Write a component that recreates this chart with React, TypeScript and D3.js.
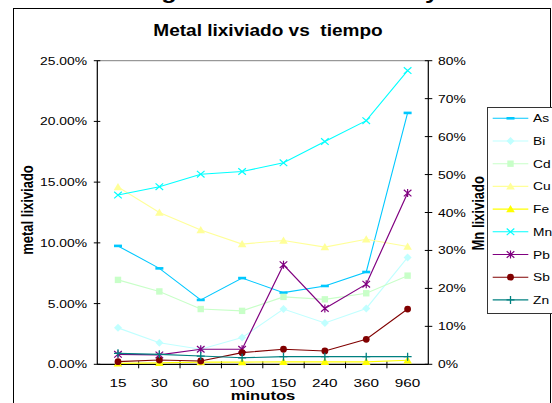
import React from "react";
import * as d3 from "d3";

const categories = ["15", "30", "60", "100", "150", "240", "360", "960"];
const leftTicks = [0, 0.05, 0.1, 0.15, 0.2, 0.25];
const rightTicks = [0, 0.1, 0.2, 0.3, 0.4, 0.5, 0.6, 0.7, 0.8];

// percentages (left axis)
const asVals = [9.75, 7.9, 5.3, 7.1, 5.9, 6.45, 7.6, 20.7];
const biVals = [3.0, 1.78, 1.24, 2.2, 4.55, 3.4, 4.6, 8.8];
const cdVals = [6.95, 6.0, 4.55, 4.4, 5.55, 5.35, 5.85, 7.3];
const cuVals = [14.6, 12.5, 11.05, 9.9, 10.2, 9.65, 10.3, 9.7];
const feVals = [0.08, 0.12, 0.18, 0.18, 0.2, 0.2, 0.2, 0.33];
const pbVals = [0.82, 0.77, 1.24, 1.24, 8.2, 4.6, 6.6, 14.1];
const sbVals = [0.22, 0.35, 0.27, 0.96, 1.24, 1.1, 2.06, 4.55];
const znVals = [0.9, 0.82, 0.68, 0.54, 0.63, 0.63, 0.63, 0.63];
// right axis
const mnVals = [44.6, 46.8, 50.1, 50.8, 53.1, 58.7, 64.2, 77.4];

type Series = { name: string; values: number[]; color: string; marker: string; axis: "L" | "R"; width: number };

const series: Series[] = [
  { name: "As", values: asVals, color: "#00C8FF", marker: "dash", axis: "L", width: 1.1 },
  { name: "Bi", values: biVals, color: "#C0FFFF", marker: "diamond", axis: "L", width: 1.1 },
  { name: "Cd", values: cdVals, color: "#C8FFC8", marker: "square", axis: "L", width: 1.1 },
  { name: "Cu", values: cuVals, color: "#FFFF99", marker: "triangle", axis: "L", width: 1.1 },
  { name: "Fe", values: feVals, color: "#FFFF00", marker: "triangle", axis: "L", width: 1.1 },
  { name: "Mn", values: mnVals, color: "#00FFFF", marker: "x", axis: "R", width: 1.1 },
  { name: "Pb", values: pbVals, color: "#800080", marker: "star", axis: "L", width: 1.2 },
  { name: "Sb", values: sbVals, color: "#800000", marker: "circle", axis: "L", width: 1.1 },
  { name: "Zn", values: znVals, color: "#008080", marker: "plus", axis: "L", width: 1.1 },
];

const FONT = "'Liberation Sans', Arial, Helvetica, sans-serif";
const SX = 1.26;

const X0 = 97.3, X1 = 428.3, Y0 = 364.3, Y1 = 60.7;

const x = d3.scaleBand<string>().domain(categories).range([X0, X1]).padding(0);
const yL = d3.scaleLinear().domain([0, 0.25]).range([Y0, Y1]);
const yR = d3.scaleLinear().domain([0, 0.8]).range([Y0, Y1]);

function Marker({ type, cx, cy, color }: { type: string; cx: number; cy: number; color: string }) {
  switch (type) {
    case "dash":
      return <rect x={cx - 4} y={cy - 1.3} width={8} height={2.6} fill={color} />;
    case "diamond":
      return <path d={`M${cx},${cy - 4}L${cx + 4},${cy}L${cx},${cy + 4}L${cx - 4},${cy}Z`} fill={color} />;
    case "square":
      return <rect x={cx - 3.2} y={cy - 3.2} width={6.4} height={6.4} fill={color} />;
    case "triangle":
      return <path d={`M${cx},${cy - 4}L${cx + 4.3},${cy + 3.2}L${cx - 4.3},${cy + 3.2}Z`} fill={color} />;
    case "x":
      return (
        <path d={`M${cx - 3.8},${cy - 3.3}L${cx + 3.8},${cy + 3.3}M${cx - 3.8},${cy + 3.3}L${cx + 3.8},${cy - 3.3}`} stroke={color} strokeWidth={1.2} fill="none" />
      );
    case "star":
      return (
        <path
          d={`M${cx - 3.8},${cy - 3.3}L${cx + 3.8},${cy + 3.3}M${cx - 3.8},${cy + 3.3}L${cx + 3.8},${cy - 3.3}M${cx},${cy - 4}L${cx},${cy + 4}`}
          stroke={color}
          strokeWidth={1.2}
          fill="none"
        />
      );
    case "circle":
      return <circle cx={cx} cy={cy} r={3.4} fill={color} />;
    case "plus":
      return <path d={`M${cx - 4},${cy}L${cx + 4},${cy}M${cx},${cy - 4}L${cx},${cy + 4}`} stroke={color} strokeWidth={1.3} fill="none" />;
  }
  return null;
}

function T({ x, y, size, anchor = "start", bold = false, rotate = 0, sx = SX, children }: any) {
  return (
    <text
      transform={`translate(${x},${y}) scale(${sx},1)${rotate ? ` rotate(${rotate})` : ""}`}
      fontFamily={FONT}
      fontSize={size}
      fontWeight={bold ? "bold" : "normal"}
      textAnchor={anchor}
      fill="#000"
      style={{ whiteSpace: "pre" }}
    >
      {children}
    </text>
  );
}

export default function App() {
  const cx = (c: string) => (x(c) as number) + x.bandwidth() / 2;
  const legendTop = 118.3;
  const legendStep = 22.7;
  return (
    <svg width={552} height={403} style={{ position: "absolute", left: 0, top: 0, display: "block", background: "#fff" }}>
      <rect x={0} y={0} width={552} height={403} fill="#fff" />
      {/* partial outer title (clipped by the top edge, as in the reference) */}
      <T x={169} y={-1} size={20} bold anchor="middle">g</T>
      <T x={432} y={-1} size={20} bold anchor="middle">y</T>
      {/* outer chart frame */}
      <rect x={13.5} y={8.5} width={537} height={420} fill="#fff" stroke="#000" strokeWidth={1} />

      {/* title */}
      <T x={268} y={35.5} size={15.6} bold anchor="middle" sx={1.22}>{"Metal lixiviado vs\u00A0 tiempo"}</T>

      {/* plot area top border */}
      <line x1={X0} x2={X1} y1={Y1} y2={Y1} stroke="#808080" strokeWidth={1} />

      {/* left axis */}
      <line x1={X0} x2={X0} y1={Y1} y2={Y0} stroke="#000" strokeWidth={1.2} />
      {leftTicks.map((t) => (
        <g key={"l" + t}>
          <line x1={X0 - 3.5} x2={X0 + 3} y1={yL(t)} y2={yL(t)} stroke="#000" strokeWidth={1} />
          <T x={87} y={yL(t) + 4} size={11} anchor="end">
            {d3.format(".2%")(t)}
          </T>
        </g>
      ))}
      {/* right axis */}
      <line x1={X1} x2={X1} y1={Y1} y2={Y0} stroke="#000" strokeWidth={1.2} />
      {rightTicks.map((t) => (
        <g key={"r" + t}>
          <line x1={X1 - 3.5} x2={X1 + 4} y1={yR(t)} y2={yR(t)} stroke="#000" strokeWidth={1} />
          <T x={438} y={yR(t) + 4} size={11} anchor="start">
            {d3.format(".0%")(t)}
          </T>
        </g>
      ))}
      {/* bottom axis */}
      <line x1={X0} x2={X1} y1={Y0} y2={Y0} stroke="#000" strokeWidth={1.2} />
      {categories.map((c, i) => (
        <g key={"c" + c}>
          {i > 0 && <line x1={x(c) as number} x2={x(c) as number} y1={Y0 - 3} y2={Y0 + 4} stroke="#000" strokeWidth={1} />}
          <T x={cx(c)} y={386.7} size={11.5} anchor="middle" sx={1.33}>
            {c}
          </T>
        </g>
      ))}

      {/* axis titles */}
      <T x={33} y={210} size={13} bold anchor="middle" rotate={-90} sx={1.25}>metal lixiviado</T>
      <T x={484} y={213.3} size={13} bold anchor="middle" rotate={-90} sx={1.25}>Mn lixiviado</T>
      <T x={263} y={400} size={13} bold anchor="middle" sx={1.28}>minutos</T>

      {/* series */}
      {series.map((s) => {
        const ys = s.axis === "L" ? (v: number) => yL(v / 100) : (v: number) => yR(v / 100);
        const line = d3
          .line<number>()
          .x((_, i) => cx(categories[i]))
          .y((v) => ys(v));
        return (
          <g key={s.name}>
            <path d={line(s.values) || ""} fill="none" stroke={s.color} strokeWidth={s.width} />
            {s.values.map((v, i) => (
              <Marker key={i} type={s.marker} cx={cx(categories[i])} cy={ys(v)} color={s.color} />
            ))}
          </g>
        );
      })}

      {/* legend */}
      <rect x={487.5} y={107.5} width={80} height={206} fill="#fff" stroke="#333" strokeWidth={1} />
      {series.map((s, i) => {
        const ly = legendTop + i * legendStep;
        return (
          <g key={"lg" + s.name}>
            <line x1={492.7} x2={528.3} y1={ly} y2={ly} stroke={s.color} strokeWidth={s.width} />
            <Marker type={s.marker} cx={510.5} cy={ly} color={s.color} />
            <T x={533} y={ly + 4} size={11} anchor="start" sx={1.25}>
              {s.name}
            </T>
          </g>
        );
      })}
    </svg>
  );
}
